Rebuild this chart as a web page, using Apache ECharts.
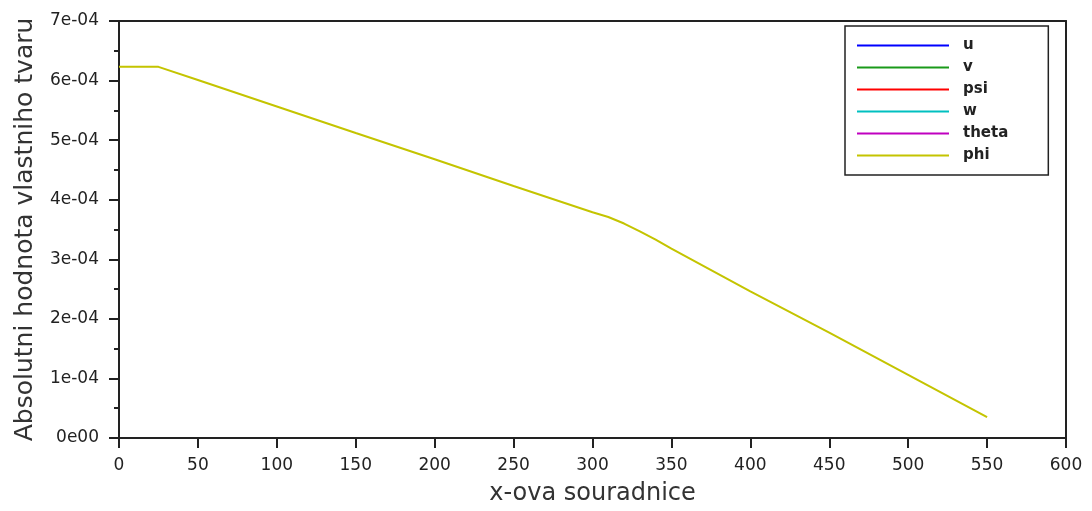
<!DOCTYPE html>
<html>
<head>
<meta charset="utf-8">
<script src="https://cdn.jsdelivr.net/npm/echarts@6/dist/echarts.min.js"></script>
<style>
  html, body { margin: 0; padding: 0; background: #fff; overflow: hidden; }
  #chart { width: 1092px; height: 511px; }
</style>
</head>
<body>
<div id="chart"></div>
<script>
// Absolute value of the eigenvector components along the x coordinate
const seriesNames = ['u', 'v', 'psi', 'w', 'theta', 'phi'];
const seriesColors = ['#0000ff', '#1a9a1a', '#ff0000', '#00c0c0', '#c000c0', '#c4c400'];

// only phi has non-zero visible values; the other components are empty
const uVals = [];
const vVals = [];
const psiVals = [];
const wVals = [];
const thetaVals = [];
const phiX = [0, 25, 50, 100, 150, 200, 250, 300, 310, 320, 330, 340, 350, 400, 450, 500, 550];
const phiY = [6.23e-4, 6.23e-4, 6.01e-4, 5.565e-4, 5.12e-4, 4.68e-4, 4.23e-4, 3.79e-4, 3.71e-4,
              3.60e-4, 3.47e-4, 3.33e-4, 3.18e-4, 2.46e-4, 1.77e-4, 1.06e-4, 0.35e-4];

const xTicks = { min: 0, max: 600, interval: 50 };
const yTicks = { min: 0, max: 7e-4, interval: 1e-4 };

function sciLabel(v) {
  if (v === 0) return '0e00';
  const m = Math.round(v * 1e4);
  return m + 'e-04';
}

const axisColor = '#222';
const labelFont = 'DejaVu Sans';

const dataSets = [uVals, vVals, psiVals, wVals, thetaVals, phiX.map((x, i) => [x, phiY[i]])];

const chart = echarts.init(document.getElementById('chart'), null, { renderer: 'canvas' });
chart.setOption({
  animation: false,
  backgroundColor: '#fff',
  grid: { left: 119, right: 26, top: 21, bottom: 70, containLabel: false },
  legend: {
    orient: 'vertical',
    left: 845,
    top: 26,
    data: seriesNames,
    icon: 'rect',
    itemWidth: 92,
    itemHeight: 2,
    itemGap: 5,
    padding: [11, 40, 11, 12],
    borderColor: axisColor,
    borderWidth: 1.5,
    borderRadius: 0,
    backgroundColor: '#fff',
    textStyle: {
      fontFamily: labelFont,
      fontSize: 15,
      fontWeight: 'bold',
      color: '#222',
      lineHeight: 17,
      padding: [0, 0, 0, 9]
    }
  },
  xAxis: [{
    type: 'value',
    min: xTicks.min, max: xTicks.max, interval: xTicks.interval,
    name: 'x-ova souradnice',
    nameLocation: 'middle',
    nameGap: 44,
    nameTextStyle: { fontFamily: labelFont, fontSize: 24, color: '#333' },
    axisLine: { onZero: false, lineStyle: { color: axisColor, width: 2 } },
    axisTick: { length: 10, lineStyle: { color: axisColor, width: 2 } },
    axisLabel: { margin: 19, fontFamily: labelFont, fontSize: 17, color: '#222' },
    splitLine: { show: false }
  }, {
    type: 'value', position: 'top',
    min: xTicks.min, max: xTicks.max,
    axisLine: { onZero: false, lineStyle: { color: axisColor, width: 2 } },
    axisTick: { show: false }, axisLabel: { show: false }, splitLine: { show: false }
  }],
  yAxis: [{
    type: 'value',
    min: yTicks.min, max: yTicks.max, interval: yTicks.interval,
    name: 'Absolutni hodnota vlastniho tvaru',
    nameLocation: 'middle',
    nameGap: 81,
    nameTextStyle: { fontFamily: labelFont, fontSize: 25, color: '#333' },
    axisLine: { show: true, onZero: false, lineStyle: { color: axisColor, width: 2 } },
    axisTick: { show: true, length: 10, lineStyle: { color: axisColor, width: 2 } },
    minorTick: { show: true, splitNumber: 2, length: 5, lineStyle: { color: axisColor, width: 2 } },
    axisLabel: { margin: 20, fontFamily: labelFont, fontSize: 17, color: '#222', formatter: sciLabel },
    splitLine: { show: false }
  }, {
    type: 'value', position: 'right',
    min: yTicks.min, max: yTicks.max,
    axisLine: { show: true, onZero: false, lineStyle: { color: axisColor, width: 2 } },
    axisTick: { show: false }, axisLabel: { show: false }, splitLine: { show: false }
  }],
  series: seriesNames.map((name, i) => ({
    name: name,
    type: 'line',
    data: dataSets[i],
    color: seriesColors[i],
    showSymbol: false,
    symbol: 'none',
    lineStyle: { width: 2, color: seriesColors[i] },
    xAxisIndex: 0,
    yAxisIndex: 0
  }))
});
</script>
</body>
</html>
